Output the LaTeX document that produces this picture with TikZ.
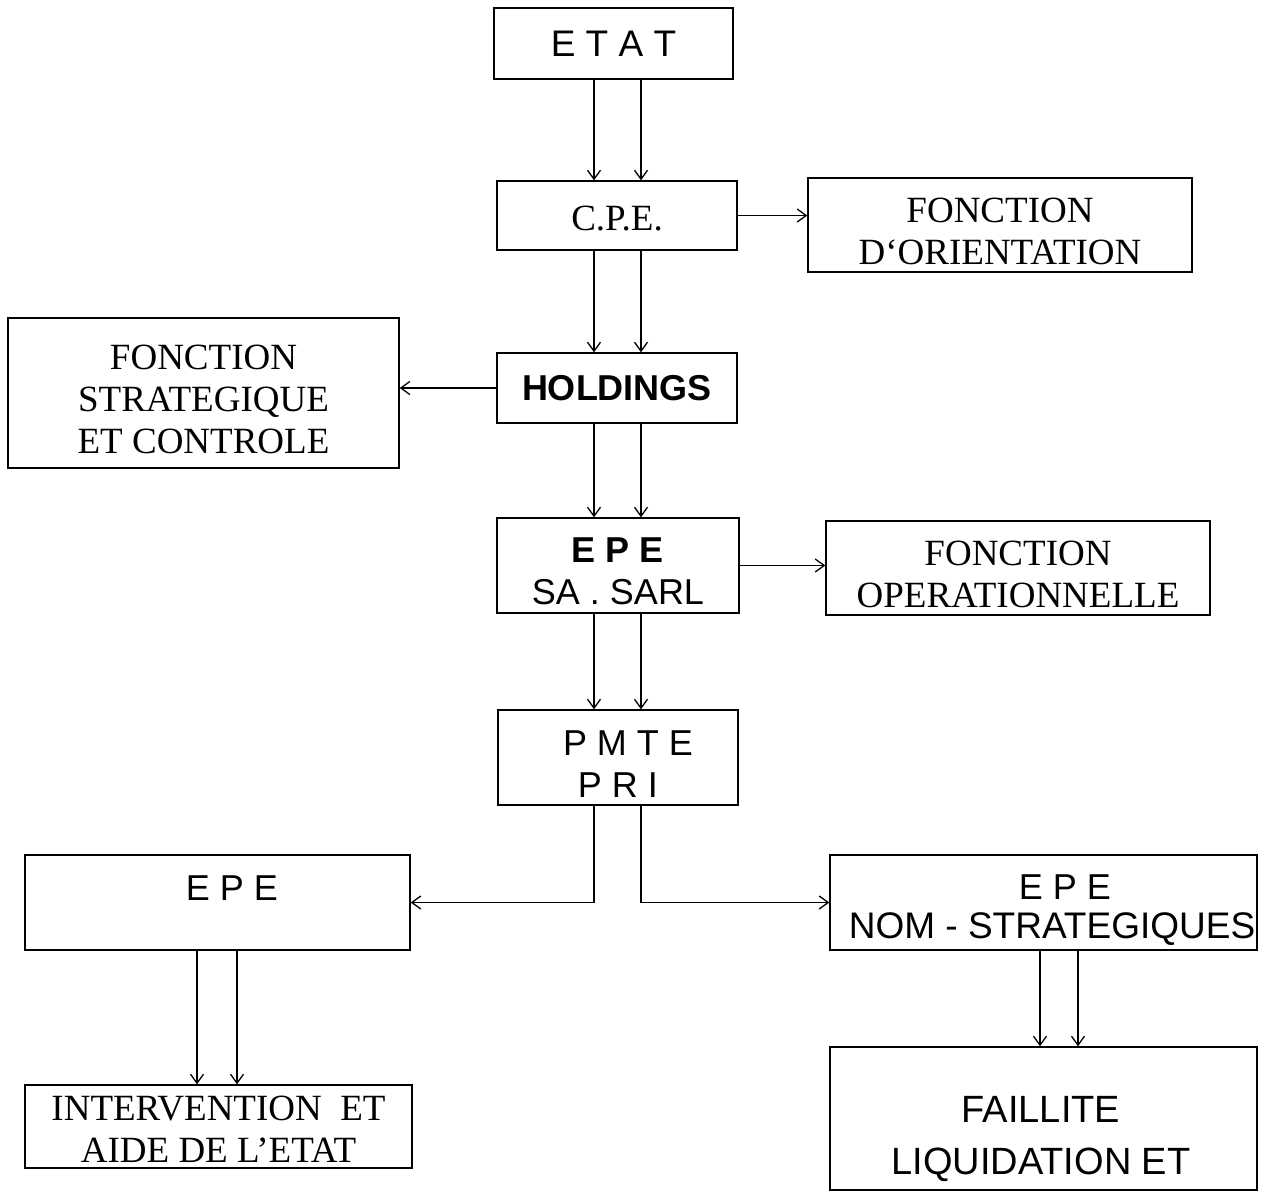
\documentclass[tikz,border=0pt]{standalone}
\usepackage{fontspec}
\setmainfont{Liberation Serif}
\setsansfont{Liberation Sans}
\usetikzlibrary{arrows.meta,calc}
\newcommand\lowr{\rule{0pt}{37pt}}
\begin{document}
\begin{tikzpicture}[x=1pt,y=-1pt,
  box/.style={draw,line width=1.4pt,inner sep=0pt,align=center,minimum width=#1},
  serif/.style={font=\fontsize{37}{42}\selectfont\rmfamily},
  sans/.style={font=\fontsize{36}{42}\selectfont\sffamily},
  arr/.style={line width=1.3pt,-{Straight Barb[length=9pt,width=13pt,line width=1.3pt]}}]
\useasboundingbox (0,0) rectangle (1270,1191);
\fill[white] (0,0) rectangle (1270,1191);
% boxes
\node[box=239pt,minimum height=71pt,sans,font=\fontsize{37}{42}\selectfont\sffamily] (etat) at (613.5,43.5) {E T A T};
\node[box=240pt,minimum height=69pt,serif] (cpe) at (617,215.5) {\rule{0pt}{30pt}C.P.E.};
\node[box=384pt,minimum height=94pt,serif] (for) at (1000,225) {\lowr FONCTION\\D‘ORIENTATION};
\node[box=391pt,minimum height=150pt,serif] (fsc) at (203.5,393) {\lowr FONCTION\\STRATEGIQUE\\ET CONTROLE};
\node[box=240pt,minimum height=70pt,sans] (hold) at (617,388) {\bfseries HOLDINGS};
\node[box=242pt,minimum height=95pt,sans] (epe) at (618,565.5) {\lowr\bfseries E P E\\SA . SARL};
\node[box=384pt,minimum height=94pt,serif] (fop) at (1018,568) {\lowr FONCTION\\OPERATIONNELLE};
\node[box=240pt,minimum height=95pt,sans] (pmte) at (618,757.5) {\lowr\ \ P M T E\\P R I};
\node[box=385pt,minimum height=95pt] (epel) at (217.5,902.5) {};
\node[sans,anchor=center] (epeltxt) at (232,888) {E P E};
\node[box=427pt,minimum height=95pt,sans] (eper) at (1043.5,902.5) {};
\node[sans,anchor=center] (epertxt1) at (1065,887) {E P E};
\node[sans,anchor=center,font=\fontsize{37}{42}\selectfont\sffamily] (epertxt2) at (1052,929) {NOM - STRATEGIQUES};
\node[box=387pt,minimum height=83pt,serif] (int) at (218.5,1126.5) {\rule{0pt}{30pt}INTERVENTION\ \ ET\\AIDE DE L’ETAT};
\node[box=427pt,minimum height=143pt] (fail) at (1043.5,1118.5) {};
\node[font=\fontsize{38}{52}\selectfont\sffamily,align=center] (failtxt) at (1041,1139) {FAILLITE\\LIQUIDATION ET};
% x positions
\coordinate (xa) at (594,0);
\coordinate (xb) at (641,0);
\coordinate (xc) at (197,0);
\coordinate (xd) at (237,0);
\coordinate (xe) at (1040,0);
\coordinate (xf) at (1078,0);
% vertical double arrows
\draw[arr] (etat.south -| xa) -- (cpe.north -| xa);
\draw[arr] (etat.south -| xb) -- (cpe.north -| xb);
\draw[arr] (cpe.south -| xa) -- (hold.north -| xa);
\draw[arr] (cpe.south -| xb) -- (hold.north -| xb);
\draw[arr] (hold.south -| xa) -- (epe.north -| xa);
\draw[arr] (hold.south -| xb) -- (epe.north -| xb);
\draw[arr] (epe.south -| xa) -- (pmte.north -| xa);
\draw[arr] (epe.south -| xb) -- (pmte.north -| xb);
\draw[arr] (epel.south -| xc) -- (int.north -| xc);
\draw[arr] (epel.south -| xd) -- (int.north -| xd);
\draw[arr] (eper.south -| xe) -- (fail.north -| xe);
\draw[arr] (eper.south -| xf) -- (fail.north -| xf);
% side arrows
\draw[arr] (cpe.east) -- (for.west |- cpe.east);
\draw[arr] (hold.west) -- (fsc.east |- hold.west);
\draw[arr] (epe.east) -- (fop.west |- epe.east);
\draw[arr] (pmte.south -| xa) |- (epel.east);
\draw[arr] (pmte.south -| xb) |- (eper.west);
\end{tikzpicture}
\end{document}
